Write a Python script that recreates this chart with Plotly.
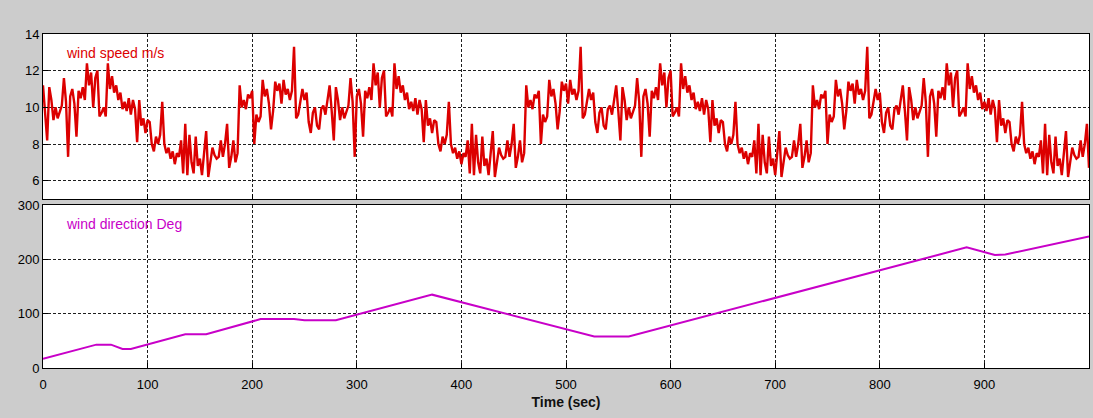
import plotly.graph_objects as go

# ---------------- data ----------------
# wind speed sampled every 2 s from 0 to 1000 s (m/s)
ws_time = list(range(0, 1001, 2))
wind_speed = [
    11.2, 9.8, 8.2, 11.1, 10.4, 9.3, 10.0, 9.4, 9.7, 10.1,
    11.6, 10.3, 7.3, 10.6, 11.0, 10.2, 8.4, 10.9, 10.5, 11.1,
    10.4, 12.4, 11.2, 11.9, 10.0, 11.6, 12.0, 9.5, 9.7, 10.0,
    9.5, 12.4, 11.0, 11.7, 10.8, 11.2, 10.4, 10.8, 9.9, 10.3,
    9.8, 10.5, 9.6, 10.4, 9.9, 8.1, 10.4, 9.0, 9.4, 8.6,
    9.3, 9.2, 8.0, 7.6, 8.4, 8.0, 8.5, 10.3, 8.0, 7.5,
    7.8, 7.2, 7.6, 6.9, 7.5, 7.3, 8.2, 6.4, 9.1, 6.3,
    8.5, 7.0, 6.4, 8.4, 6.8, 7.2, 6.3, 7.6, 8.7, 6.2,
    7.0, 7.8, 7.4, 7.2, 7.3, 8.2, 7.3, 8.0, 9.1, 6.7,
    7.3, 8.2, 7.0, 7.5, 11.2, 10.0, 10.4, 9.9, 10.7, 10.5,
    10.9, 8.0, 9.6, 9.2, 9.5, 11.5, 10.6, 11.0, 10.2, 8.8,
    9.8, 11.4, 10.9, 11.3, 10.2, 11.5, 10.7, 11.0, 10.4, 10.9,
    13.3, 9.4, 9.6, 10.3, 11.0, 10.4, 10.8, 9.2, 8.6, 9.7,
    10.0, 9.0, 8.8, 9.9, 10.1, 9.6, 10.3,
    11.2, 9.8, 8.2, 11.1, 10.4, 9.3, 10.0, 9.4, 9.7, 10.1,
    11.6, 10.3, 7.3, 10.6, 11.0, 10.2, 8.4, 10.9, 10.5, 11.1,
    10.4, 12.4, 11.2, 11.9, 10.0, 11.6, 12.0, 9.5, 9.7, 10.0,
    9.5, 12.4, 11.0, 11.7, 10.8, 11.2, 10.4, 10.8, 9.9, 10.3,
    9.8, 10.5, 9.6, 10.4, 9.9, 8.1, 10.4, 9.0, 9.4, 8.6,
    9.3, 9.2, 8.0, 7.6, 8.4, 8.0, 8.5, 10.3, 8.0, 7.5,
    7.8, 7.2, 7.6, 6.9, 7.5, 7.3, 8.2, 6.4, 9.1, 6.3,
    8.5, 7.0, 6.4, 8.4, 6.8, 7.2, 6.3, 7.6, 8.7, 6.2,
    7.0, 7.8, 7.4, 7.2, 7.3, 8.2, 7.3, 8.0, 9.1, 6.7,
    7.3, 8.2, 7.0, 7.5, 11.2, 10.0, 10.4, 9.9, 10.7, 10.5,
    10.9, 8.0, 9.6, 9.2, 9.5, 11.5, 10.6, 11.0, 10.2, 8.8,
    9.8, 11.4, 10.9, 11.3, 10.2, 11.5, 10.7, 11.0, 10.4, 10.9,
    13.3, 9.4, 9.6, 10.3, 11.0, 10.4, 10.8, 9.2, 8.6, 9.7,
    10.0, 9.0, 8.8, 9.9, 10.1, 9.6, 10.3,
    11.2, 9.8, 8.2, 11.1, 10.4, 9.3, 10.0, 9.4, 9.7, 10.1,
    11.6, 10.3, 7.3, 10.6, 11.0, 10.2, 8.4, 10.9, 10.5, 11.1,
    10.4, 12.4, 11.2, 11.9, 10.0, 11.6, 12.0, 9.5, 9.7, 10.0,
    9.5, 12.4, 11.0, 11.7, 10.8, 11.2, 10.4, 10.8, 9.9, 10.3,
    9.8, 10.5, 9.6, 10.4, 9.9, 8.1, 10.4, 9.0, 9.4, 8.6,
    9.3, 9.2, 8.0, 7.6, 8.4, 8.0, 8.5, 10.3, 8.0, 7.5,
    7.8, 7.2, 7.6, 6.9, 7.5, 7.3, 8.2, 6.4, 9.1, 6.3,
    8.5, 7.0, 6.4, 8.4, 6.8, 7.2, 6.3, 7.6, 8.7, 6.2,
    7.0, 7.8, 7.4, 7.2, 7.3, 8.2, 7.3, 8.0, 9.1, 6.7,
    7.3, 8.2, 7.0, 7.5, 11.2, 10.0, 10.4, 9.9, 10.7, 10.5,
    10.9, 8.0, 9.6, 9.2, 9.5, 11.5, 10.6, 11.0, 10.2, 8.8,
    9.8, 11.4, 10.9, 11.3, 10.2, 11.5, 10.7, 11.0, 10.4, 10.9,
    13.3, 9.4, 9.6, 10.3, 11.0, 10.4, 10.8, 9.2, 8.6, 9.7,
    10.0, 9.0, 8.8, 9.9, 10.1, 9.6, 10.3,
    11.2, 9.8, 8.2, 11.1, 10.4, 9.3, 10.0, 9.4, 9.7, 10.1,
    11.6, 10.3, 7.3, 10.6, 11.0, 10.2, 8.4, 10.9, 10.5, 11.1,
    10.4, 12.4, 11.2, 11.9, 10.0, 11.6, 12.0, 9.5, 9.7, 10.0,
    9.5, 12.4, 11.0, 11.7, 10.8, 11.2, 10.4, 10.8, 9.9, 10.3,
    9.8, 10.5, 9.6, 10.4, 9.9, 8.1, 10.4, 9.0, 9.4, 8.6,
    9.3, 9.2, 8.0, 7.6, 8.4, 8.0, 8.5, 10.3, 8.0, 7.5,
    7.8, 7.2, 7.6, 6.9, 7.5, 7.3, 8.2, 6.4, 9.1, 6.3,
    8.5, 7.0, 6.4, 8.4, 6.8, 7.2, 6.3, 7.6, 8.7, 6.2,
    7.0, 7.8, 7.4, 7.2, 7.3, 8.2, 7.3, 8.0, 9.1, 6.7,
]

# wind direction breakpoints (deg)
wd_time = [0, 51, 65, 76, 84, 136, 156, 208, 240, 250, 280, 372, 527, 560, 883, 910, 920, 1000]
wind_dir = [17, 43, 43, 35, 35, 62, 62, 90, 90, 88, 88, 135, 58, 58, 222, 208, 209, 242]

x_ticks = [0, 100, 200, 300, 400, 500, 600, 700, 800, 900]
speed_ticks = [6, 8, 10, 12, 14]
dir_ticks = [0, 100, 200, 300]

# ---------------- figure ----------------
RED = "#dc0000"
MAG = "#c800c8"
GRID = "#1e1e1e"
BG = "#cccccc"
FONT = "Liberation Sans, Arial, sans-serif"

fig = go.Figure()
fig.add_trace(go.Scatter(x=ws_time, y=wind_speed, mode="lines",
                         line=dict(color=RED, width=2.4), xaxis="x", yaxis="y",
                         showlegend=False, hoverinfo="skip"))
fig.add_trace(go.Scatter(x=wd_time, y=wind_dir, mode="lines",
                         line=dict(color=MAG, width=2), xaxis="x2", yaxis="y2",
                         showlegend=False, hoverinfo="skip"))

axis_common = dict(showline=True, linecolor="black", linewidth=1, mirror=True,
                   showgrid=True, gridcolor=GRID, gridwidth=1, griddash="3px,2px",
                   zeroline=False, ticks="inside", ticklen=5, tickcolor="black",
                   automargin=False,
                   tickfont=dict(family=FONT, size=13, color="#000000"))

fig.update_layout(
    width=1093, height=418,
    paper_bgcolor=BG, plot_bgcolor="white",
    margin=dict(l=43, r=4, t=34, b=50, autoexpand=False),
    font=dict(family=FONT, size=13, color="#000000"),
    xaxis=dict(domain=[0, 1], anchor="y", range=[0, 1000], tickvals=x_ticks,
               showticklabels=False, **axis_common),
    yaxis=dict(domain=[0.506, 1], anchor="x", range=[5, 14], tickvals=speed_ticks,
               **axis_common),
    xaxis2=dict(domain=[0, 1], anchor="y2", range=[0, 1000], tickvals=x_ticks,
                ticklabelstandoff=4,
                title=dict(text="<b>Time (sec)</b>", standoff=6,
                           font=dict(family=FONT, size=14, color="#111111")),
                **axis_common),
    yaxis2=dict(domain=[0, 0.488], anchor="x2", range=[0, 300], tickvals=dir_ticks,
                **axis_common),
    annotations=[
        dict(text="wind speed m/s", xref="x domain", yref="y domain", x=0.02, y=0.885,
             xanchor="left", yanchor="middle", showarrow=False,
             font=dict(family=FONT, size=14, color=RED)),
        dict(text="wind direction Deg", xref="x2 domain", yref="y2 domain", x=0.02, y=0.883,
             xanchor="left", yanchor="middle", showarrow=False,
             font=dict(family=FONT, size=14, color=MAG)),
    ],
)

page_fix = ("document.body.style.margin='0';"
            "document.body.style.padding='0';"
            "document.body.style.background='#cccccc';"
            "document.body.style.overflow='hidden';")
fig.write_html("out.html", post_script=page_fix, config={"displayModeBar": False})
